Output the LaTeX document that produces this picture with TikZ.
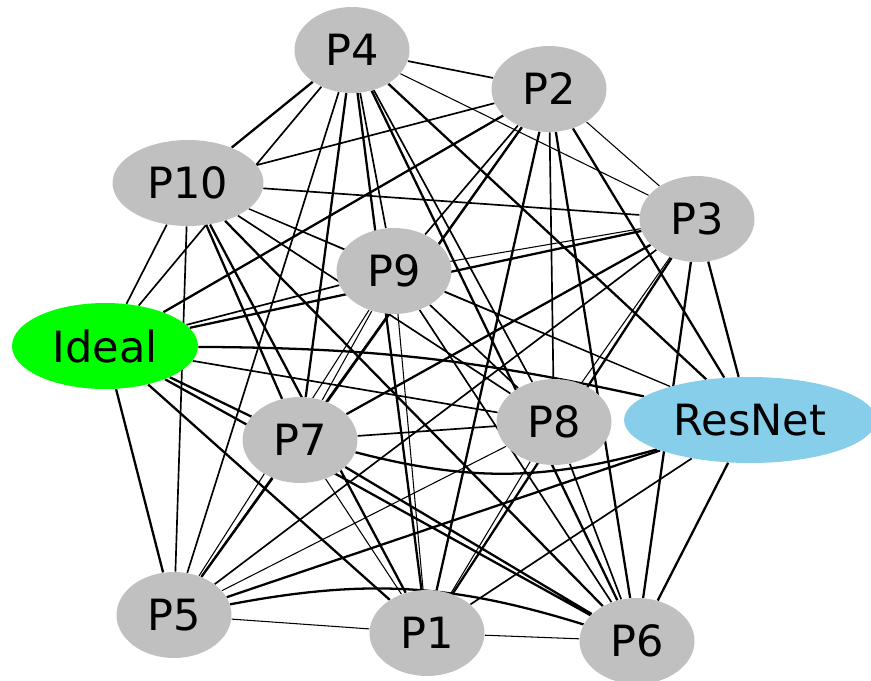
\documentclass[tikz,border=0pt]{standalone}
\usepackage{fontspec}
\setsansfont{DejaVu Sans}
\usepackage{tikz}
\usetikzlibrary{shapes.geometric, backgrounds}
\definecolor{pgray}{HTML}{C0C0C0}
\definecolor{idealgreen}{HTML}{00FF00}
\definecolor{resblue}{HTML}{87CEEB}

\begin{document}
\begin{tikzpicture}[
  x=0.02cm, y=-0.02cm,
  font=\sffamily\fontsize{24.5}{28}\selectfont,
  pnode/.style={ellipse, fill=pgray, inner sep=0pt,
                minimum width=2.3cm, minimum height=1.72cm},
  widenode/.style={pnode, minimum width=3.02cm},
  ideal/.style={pnode, fill=idealgreen, minimum width=3.72cm},
  resnet/.style={pnode, fill=resblue, minimum width=5.04cm},
  thn/.style={line width=0.6pt},
  mid/.style={line width=0.95pt},
  thk/.style={line width=1.3pt}
]
  \useasboundingbox (0,0) rectangle (871,680);

  \node[pnode]    (p4)  at (352,50)  {P4};
  \node[pnode]    (p2)  at (549,89)  {P2};
  \node[widenode] (p10) at (188,183) {P10};
  \node[pnode]    (p3)  at (697,219) {P3};
  \node[pnode]    (p9)  at (394,271) {P9};
  \node[ideal]    (id)  at (105,346) {Ideal};
  \node[resnet]   (rn)  at (750,420) {ResNet};
  \node[pnode]    (p8)  at (554,422) {P8};
  \node[pnode]    (p7)  at (300,440) {P7};
  \node[pnode]    (p5)  at (174,615) {P5};
  \node[pnode]    (p1)  at (427,633) {P1};
  \node[pnode]    (p6)  at (637,641) {P6};

  \begin{scope}[on background layer]
    % heavy links
    \draw[thk] (id) -- (p1) (id) -- (p2) (id) -- (p3) (id) -- (p5)
               (id) -- (p6) (id) -- (p7)
               (rn) -- (p2) (rn) -- (p3) (rn) -- (p4) (rn) -- (p5) (rn) -- (p6)
               (p1) -- (p2) (p1) -- (p3) (p1) -- (p4) (p1) -- (p10)
               (p2) -- (p6) (p2) -- (p7) (p3) -- (p6) (p3) -- (p7)
               (p4) -- (p6) (p4) -- (p7) (p4) -- (p10)
               (p5) -- (p7) (p6) -- (p7) (p6) -- (p10) (p7) -- (p10);
    \draw[thk] (id) to[bend left=6] (rn);
    \draw[thk] (p7) to[bend right=15] (rn);
    \draw[thk] (p5) to[bend left=14] (p6);
    % medium links
    \draw[mid] (id) -- (p4) (id) -- (p8) (id) -- (p9) (id) -- (p10)
               (rn) -- (p1)
               (p2) -- (p4) (p2) -- (p5) (p2) -- (p8) (p2) -- (p9) (p2) -- (p10)
               (p3) -- (p5) (p3) -- (p10)
               (p4) -- (p5) (p4) -- (p8) (p4) -- (p9)
               (p5) -- (p10) (p6) -- (p8) (p6) -- (p9)
               (p7) -- (p8) (p8) -- (p9) (p8) -- (p10);
    % light links
    \draw[thn] (rn) -- (p9) (rn) -- (p10)
               (p1) -- (p5) (p1) -- (p6) (p1) -- (p7) (p1) -- (p8) (p1) -- (p9)
               (p2) -- (p3) (p3) -- (p4) (p3) -- (p8) (p3) -- (p9)
               (p5) -- (p8) (p5) -- (p9) (p7) -- (p9) (p9) -- (p10);
  \end{scope}
\end{tikzpicture}
\end{document}
